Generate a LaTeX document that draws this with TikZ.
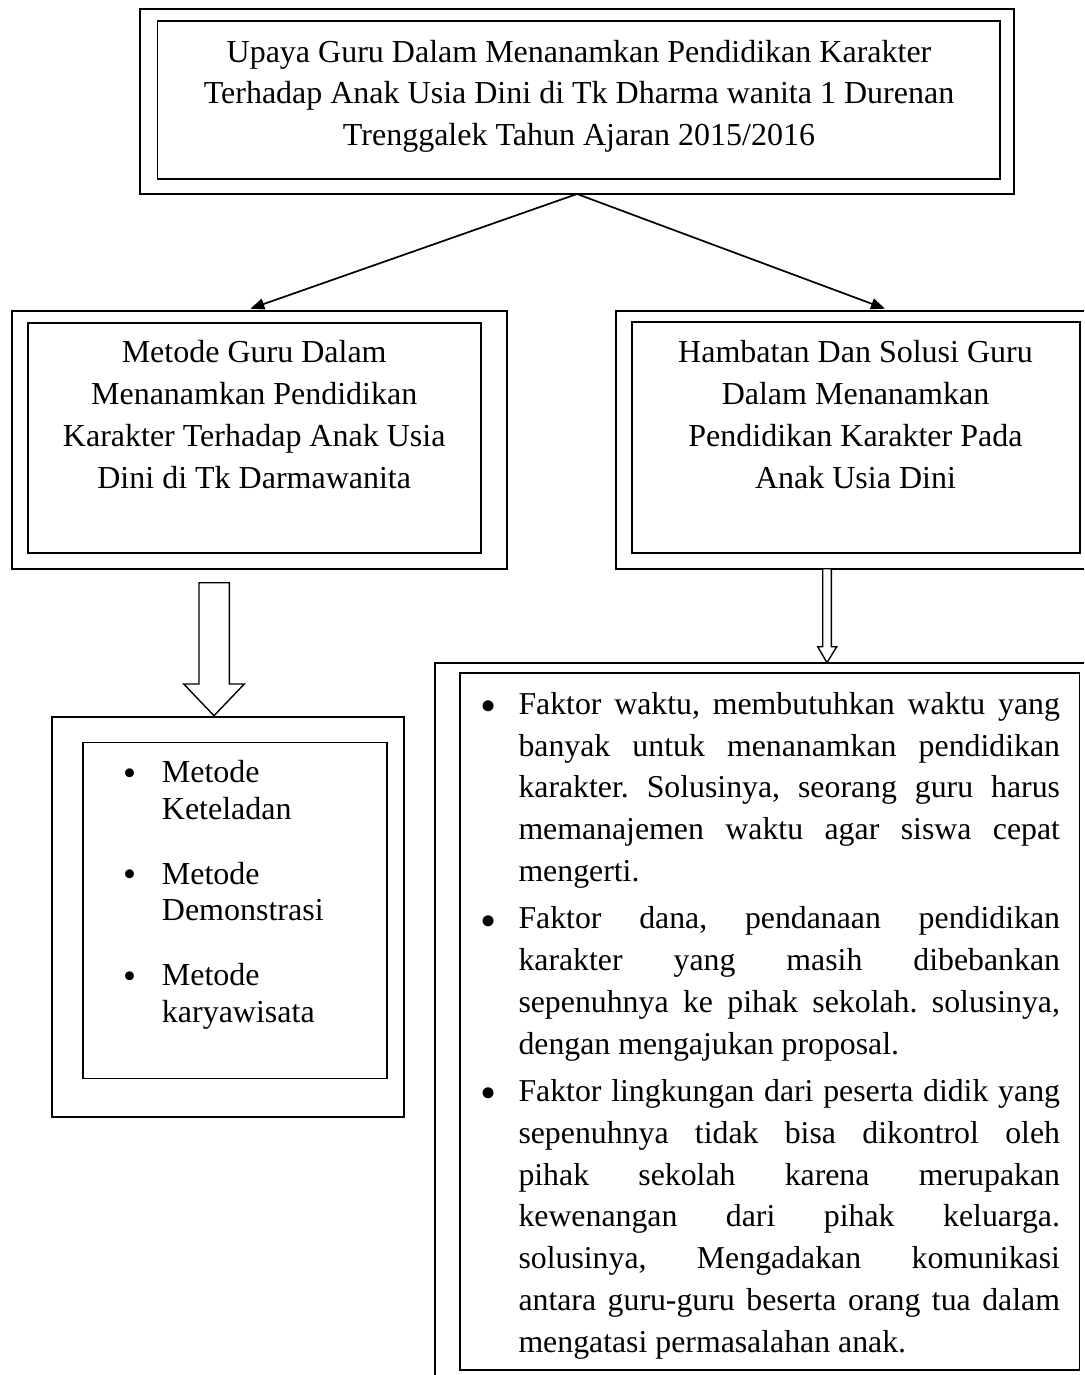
\documentclass[tikz,border=0pt]{standalone}
\usepackage{fontspec}
\setmainfont{Liberation Serif}
\usetikzlibrary{arrows.meta}
\frenchspacing
\tikzset{
  frame/.style={draw, line width=1.7pt, inner sep=0pt, outer sep=0pt},
  conn/.style={line width=1.7pt, -{Triangle[length=14pt,width=11pt]}},
  hollow/.style={draw, line width=1.4pt, fill=white, line join=miter},
  ttl/.style={inner sep=0pt, anchor=north, align=center, font=\fontsize{32}{41.5}\selectfont},
  midtxt/.style={inner sep=0pt, anchor=north, align=center, font=\fontsize{32}{42.2}\selectfont},
  listl/.style={inner sep=0pt, anchor=north west, align=left, font=\fontsize{32}{36.7}\selectfont},
  listr/.style={inner sep=0pt, anchor=north west, align=left, font=\fontsize{31.8}{41.8}\selectfont}
}
\newcommand{\lbul}{\llap{\makebox[0pt]{\raisebox{-2.8pt}{\fontsize{37}{37}\selectfont\textbullet}}\hspace{32.4pt}}}
\newcommand{\rbul}{\llap{\makebox[0pt]{\raisebox{-7.3pt}{\fontsize{46}{46}\selectfont\textbullet}}\hspace{30pt}}}
\newcommand{\jl}[1]{\makebox[541.5pt][s]{#1}}
\begin{document}
\begin{tikzpicture}[x=1pt,y=-1pt]
\useasboundingbox (0,0) rectangle (1084,1375);
\clip (0,0) rectangle (1084,1375);
% top box
\node[frame, minimum width=874pt, minimum height=185.3pt] (topouter) at (577,101.35) {};
\node[frame, minimum width=842.1pt, minimum height=158.3pt] (topinner) at (578.65,99.85) {};
\node[ttl] (toptext) at (579,32.95) {\strut Upaya Guru Dalam Menanamkan Pendidikan Karakter\\\strut Terhadap Anak Usia Dini di Tk Dharma wanita 1 Durenan\\\strut Trenggalek Tahun Ajaran 2015/2016};
% middle left box
\node[frame, minimum width=494.7pt, minimum height=258pt] (leftouter) at (259.35,439.7) {};
\node[frame, minimum width=453pt, minimum height=230pt] (leftinner) at (254.2,437.7) {};
\node[midtxt] (lefttext) at (254.2,332.5) {\strut Metode Guru Dalam\\\strut Menanamkan Pendidikan\\\strut Karakter Terhadap Anak Usia\\\strut Dini di Tk Darmawanita};
% middle right box
\node[frame, minimum width=490pt, minimum height=258pt] (rightouter) at (861,439.7) {};
\node[frame, minimum width=447.7pt, minimum height=231pt] (rightinner) at (856.15,437.8) {};
\node[midtxt] (righttext) at (855.5,332.5) {\strut Hambatan Dan Solusi Guru\\\strut Dalam Menanamkan\\\strut Pendidikan Karakter Pada\\\strut Anak Usia Dini};
% connectors from top box
\draw[conn] (topouter.south) -- ([shift={(-9,-2)}]leftouter.north);
\draw[conn] (topouter.south) -- ([shift={(24,-2)}]rightouter.north);
% bottom left box
\node[frame, minimum width=352.6pt, minimum height=400pt] (lbouter) at (228,916.7) {};
\node[frame, minimum width=303.4pt, minimum height=336.1pt] (lbinner) at (235,910.55) {};
\node[listl] (lbtext) at (161.7,757.0) {\strut\lbul Metode\\\strut Keteladan\\[27.8pt]\strut\lbul Metode\\\strut Demonstrasi\\[27.8pt]\strut\lbul Metode\\\strut karyawisata};
% bottom right box
\node[frame, minimum width=675pt, minimum height=737.3pt] (rbouter) at (772.5,1031.35) {};
\node[frame, minimum width=619.5pt, minimum height=697.3pt] (rbinner) at (769.75,1021.35) {};
\node[listr] (rbtext) at (518.3,684.74) {%
\strut\rbul\jl{Faktor waktu, membutuhkan waktu yang}\\
\strut\jl{banyak untuk menanamkan pendidikan}\\
\strut\jl{karakter. Solusinya, seorang guru harus}\\
\strut\jl{memanajemen waktu agar siswa cepat}\\
\strut mengerti.\\[5.5pt]
\strut\rbul\jl{Faktor dana, pendanaan pendidikan}\\
\strut\jl{karakter yang masih dibebankan}\\
\strut\jl{sepenuhnya ke pihak sekolah. solusinya,}\\
\strut dengan mengajukan proposal.\\[5.5pt]
\strut\rbul\jl{Faktor lingkungan dari peserta didik yang}\\
\strut\jl{sepenuhnya tidak bisa dikontrol oleh}\\
\strut\jl{pihak sekolah karena merupakan}\\
\strut\jl{kewenangan dari pihak keluarga.}\\
\strut\jl{solusinya, Mengadakan komunikasi}\\
\strut\jl{antara guru-guru beserta orang tua dalam}\\
\strut mengatasi permasalahan anak.};
% hollow block arrows
\draw[hollow] (199,582.7) -- (229.3,582.7) -- (229.3,684) -- (244.3,684) -- (214,715.7) -- (183.7,684) -- (199,684) -- cycle;
\draw[hollow] (822.7,568.7) -- (831.3,568.7) -- (831.3,646.7) -- (836.7,646.7) -- (827,662.7) -- (817.7,646.7) -- (822.7,646.7) -- cycle;
\end{tikzpicture}
\end{document}
